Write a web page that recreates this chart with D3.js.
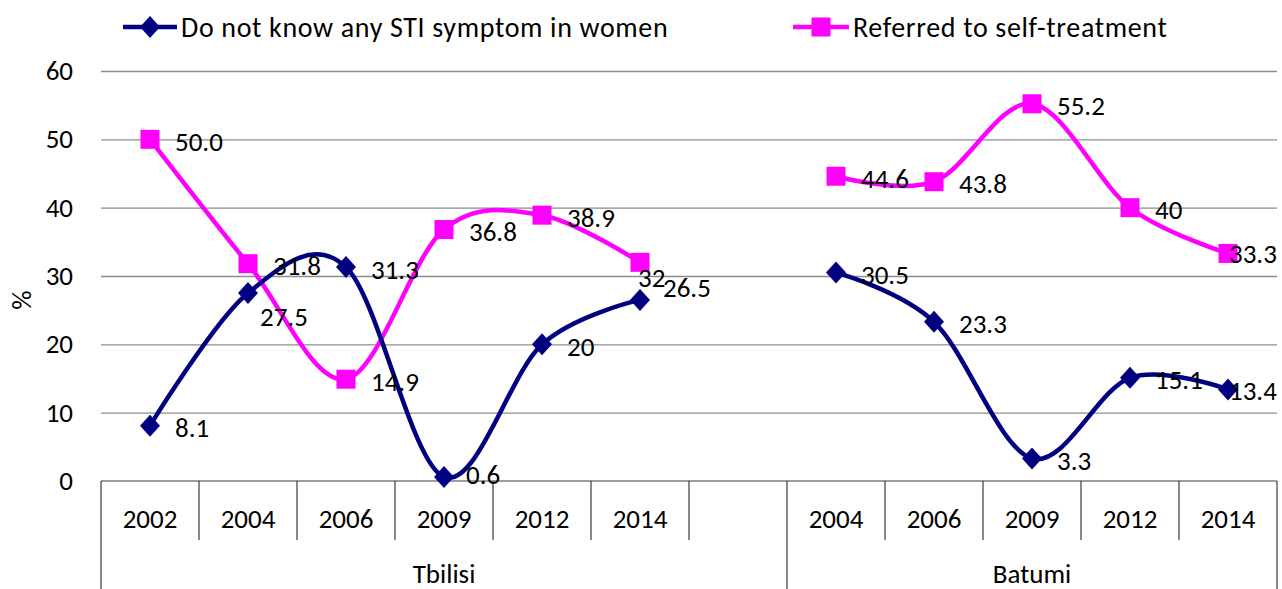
<!DOCTYPE html>
<html>
<head>
<meta charset="utf-8">
<script src="https://cdn.jsdelivr.net/npm/d3@7"></script>
<style>
  body { margin: 0; background: #fff; }
  svg { display: block; font-family: Carlito, Calibri, Lato, sans-serif; }
</style>
</head>
<body>
<svg id="chart"></svg>
<script>
        // Categories (the blank one keeps the gap between the two cities)
        const years = ['2002', '2004', '2006', '2009', '2012', '2014', '', '2004', '2006', '2009', '2012', '2014'];
        const cities = [
            { name: 'Tbilisi', from: 0, to: 6 },
            { name: 'Batumi', from: 7, to: 11 }
        ];

        // Series values, null = no point
        const dontKnow = [8.1, 27.5, 31.3, 0.6, 20, 26.5, null, 30.5, 23.3, 3.3, 15.1, 13.4];
        const selfTreat = [50.0, 31.8, 14.9, 36.8, 38.9, 32, null, 44.6, 43.8, 55.2, 40, 33.3];

        // Data label text as printed on the chart
        const dontKnowLabels = ['8.1', '27.5', '31.3', '0.6', '20', '26.5', '', '30.5', '23.3', '3.3', '15.1', '13.4'];
        const selfTreatLabels = ['50.0', '31.8', '14.9', '36.8', '38.9', '32', '', '44.6', '43.8', '55.2', '40', '33.3'];

        const yTicks = [0, 10, 20, 30, 40, 50, 60];

        // Label nudges (pixels) where the label was moved off the default spot
        const dontKnowNudge = { 1: [12, 23], 3: [22, -2], 5: [23, -12], 11: [1, 1] };
        const selfTreatNudge = { 5: [-2, 15], 11: [1, 0] };

        const W = 1282, H = 589;
        const plotLeft = 101, plotRight = 1277, plotTop = 71, plotBase = 481;
        const fs = '27px';

        const svg = d3.select('#chart')
            .attr('width', W)
            .attr('height', H);

        const x = d3.scaleBand()
            .domain(d3.range(years.length))
            .range([plotLeft, plotRight])
            .padding(0);

        const y = d3.scaleLinear()
            .domain([0, 60])
            .range([plotBase, plotTop]);

        // Gridlines + y labels
        const yAxis = svg.append('g')
            .attr('transform', `translate(${plotLeft},0)`)
            .call(d3.axisLeft(y).tickValues(yTicks).tickSize(-(plotRight - plotLeft)).tickPadding(28));
        yAxis.select('.domain').remove();
        yAxis.selectAll('.tick line').attr('stroke', '#8c8c8c').attr('stroke-width', 1.3);
        yAxis.selectAll('.tick text')
            .attr('fill', '#000')
            .style('font-size', fs)
            .style('font-family', 'Carlito, Calibri, Lato, sans-serif');
        yAxis.select('.tick line').remove(); // zero line is drawn by the category box

        svg.append('text')
            .attr('transform', 'translate(31,300) rotate(-90)')
            .attr('text-anchor', 'middle')
            .style('font-size', fs)
            .text('%');

        // Category axis box
        const axisG = svg.append('g').attr('stroke', '#3a3a3a').attr('stroke-width', 1.2);
        axisG.append('line')
            .attr('x1', plotLeft).attr('x2', plotRight)
            .attr('y1', plotBase).attr('y2', plotBase);
        const groupEdges = new Set([0, 7, years.length]);
        d3.range(years.length + 1).forEach(i => {
            const xx = i < years.length ? x(i) : plotRight;
            axisG.append('line')
                .attr('x1', xx).attr('x2', xx)
                .attr('y1', plotBase)
                .attr('y2', groupEdges.has(i) ? H : 540);
        });

        svg.append('g').selectAll('text')
            .data(years)
            .join('text')
            .attr('x', (d, i) => x(i) + x.bandwidth() / 2)
            .attr('y', 519)
            .attr('dy', '0.35em')
            .attr('text-anchor', 'middle')
            .style('font-size', fs)
            .text(d => d);

        svg.append('g').selectAll('text')
            .data(cities)
            .join('text')
            .attr('x', d => (x(d.from) + x(d.to) + x.bandwidth()) / 2)
            .attr('y', 574)
            .attr('dy', '0.35em')
            .attr('text-anchor', 'middle')
            .style('font-size', fs)
            .text(d => d.name);

        // Smoothed lines, broken at the blank category
        const line = d3.line()
            .defined(d => d != null)
            .x((d, i) => x(i) + x.bandwidth() / 2)
            .y(d => y(d))
            .curve(d3.curveCardinal.tension(0));

        const series = [
            { values: selfTreat, labels: selfTreatLabels, nudge: selfTreatNudge, color: '#ff00ff', marker: 'square', name: 'Referred to self-treatment' },
            { values: dontKnow, labels: dontKnowLabels, nudge: dontKnowNudge, color: '#000080', marker: 'diamond', name: 'Do not know any STI symptom in women' }
        ];

        const markerPath = (type) => type === 'square'
            ? 'M-9.5,-9.5H9.5V9.5H-9.5Z'
            : 'M0,-11L10,0L0,11L-10,0Z';

        series.forEach(s => {
            svg.append('path')
                .datum(s.values)
                .attr('fill', 'none')
                .attr('stroke', s.color)
                .attr('stroke-width', 4.5)
                .attr('d', line);

            svg.append('g').selectAll('path')
                .data(s.values.map((v, i) => ({ v, i })).filter(d => d.v != null))
                .join('path')
                .attr('transform', d => `translate(${x(d.i) + x.bandwidth() / 2},${y(d.v)})`)
                .attr('d', markerPath(s.marker))
                .attr('fill', s.color);
        });

        // Data labels on top of both series
        series.forEach(s => {
            svg.append('g').selectAll('text')
                .data(s.values.map((v, i) => ({ v, i })).filter(d => d.v != null))
                .join('text')
                .attr('x', d => x(d.i) + x.bandwidth() / 2 + (s.nudge[d.i] ? s.nudge[d.i][0] : 25))
                .attr('y', d => y(d.v) + (s.nudge[d.i] ? s.nudge[d.i][1] : 2))
                .attr('dy', '0.35em')
                .style('font-size', fs)
                .text(d => s.labels[d.i]);
        });

        // Legend
        const legendItems = [
            { s: series[1], x: 123, w: 54 },
            { s: series[0], x: 793, w: 56 }
        ];
        legendItems.forEach(l => {
            const g = svg.append('g').attr('transform', `translate(${l.x},27)`);
            g.append('line')
                .attr('x1', 0).attr('x2', l.w)
                .attr('stroke', l.s.color).attr('stroke-width', 4.5);
            g.append('path')
                .attr('transform', `translate(${l.w / 2},0)`)
                .attr('d', markerPath(l.s.marker))
                .attr('fill', l.s.color);
            g.append('text')
                .attr('x', l.w + 4)
                .attr('dy', '0.35em')
                .style('font-size', '28px')
                .style('letter-spacing', '0.65px')
                .text(l.s.name);
        });
</script>
</body>
</html>
